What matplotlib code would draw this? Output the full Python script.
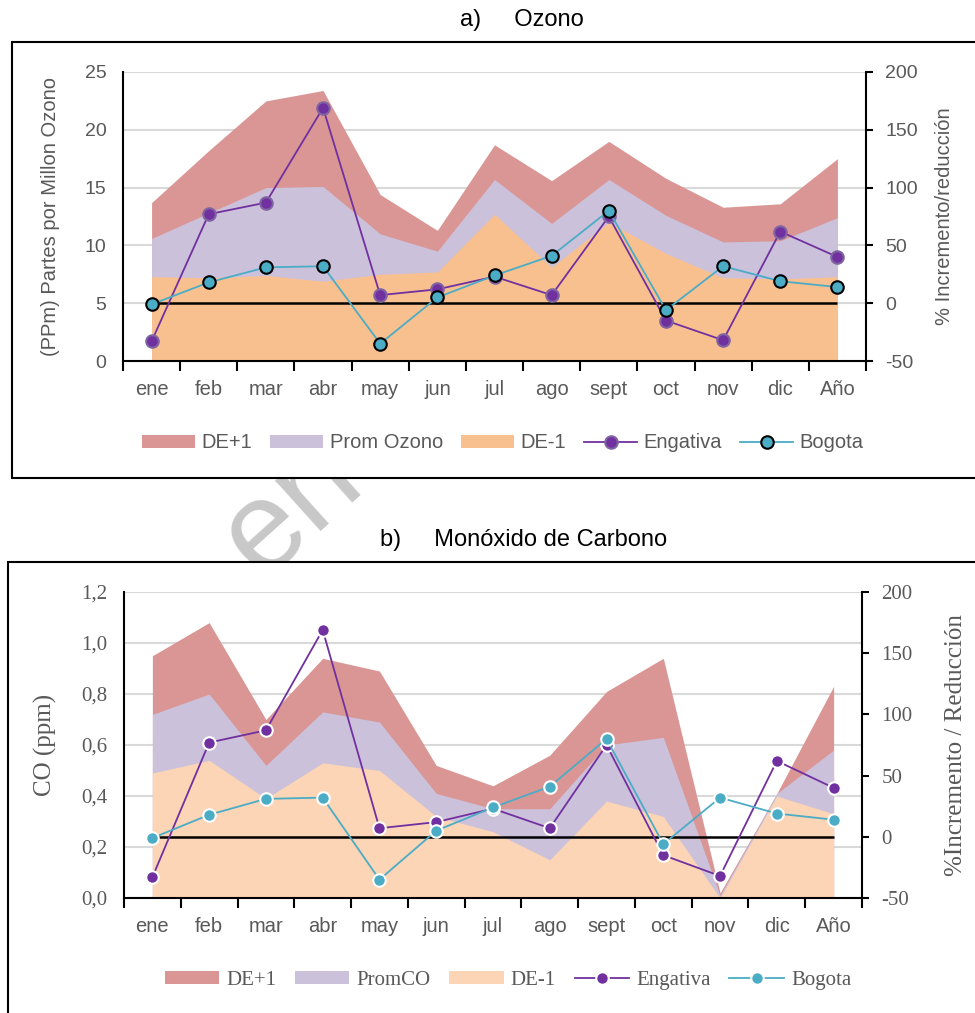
import matplotlib.pyplot as plt
from matplotlib.patches import Rectangle
import numpy as np

MESES = ['ene', 'feb', 'mar', 'abr', 'may', 'jun', 'jul', 'ago', 'sept', 'oct', 'nov', 'dic', 'Año']

# a) Ozono (ppm)
O3_DE_MAS = [13.7, 18.2, 22.5, 23.4, 14.4, 11.3, 18.7, 15.6, 19.0, 15.8, 13.3, 13.6, 17.5]
O3_PROM = [10.6, 12.8, 15.0, 15.1, 11.0, 9.5, 15.7, 11.9, 15.7, 12.6, 10.3, 10.4, 12.4]
O3_DE_MENOS = [7.3, 7.2, 7.4, 6.9, 7.5, 7.7, 12.7, 8.1, 12.0, 9.3, 7.2, 7.1, 7.3]

# b) Monoxido de carbono (ppm)
CO_DE_MAS = [0.95, 1.08, 0.70, 0.94, 0.89, 0.52, 0.44, 0.56, 0.81, 0.94, 0.02, 0.41, 0.83]
CO_PROM = [0.72, 0.80, 0.52, 0.73, 0.69, 0.41, 0.35, 0.35, 0.60, 0.63, 0.01, 0.41, 0.58]
CO_DE_MENOS = [0.49, 0.54, 0.39, 0.53, 0.50, 0.32, 0.26, 0.15, 0.38, 0.32, 0.0, 0.40, 0.33]

# % incremento / reduccion (igual en ambos paneles)
ENGATIVA = [-33, 77, 87, 169, 7, 12, 23, 7, 75, -15, -32, 62, 40]
BOGOTA = [-1, 18, 31, 32, -35, 5, 24, 41, 80, -6, 32, 19, 14]

ROJO = '#D99694'
LILA = '#CCC1DA'
NARANJA = '#F9C08F'
DURAZNO = '#FBD5B5'
MORADO = '#7030A0'
CIAN = '#4BACC6'
GRIS = '#595959'

SANS = ['Liberation Sans', 'DejaVu Sans']
SERIF = ['Liberation Serif', 'DejaVu Serif']
plt.rcParams['font.family'] = SANS

W, H = 975, 1013
fig = plt.figure(figsize=(W / 100, H / 100), dpi=100)


def fx(px):
    return px / W


def fy(py):
    return 1 - py / H


# marca de agua (detras de los recuadros)
fig.text(fx(292), fy(508), 'en', rotation=42, fontsize=92, color='#C8C8C8',
         ha='center', va='center', zorder=0)

# recuadros blancos de cada grafico
for x0, y0, x1, y1 in [(12, 42, 1000, 478), (8, 562, 1000, 1040)]:
    fig.patches.append(Rectangle((fx(x0), fy(y1)), (x1 - x0) / W, (y1 - y0) / H,
                                 transform=fig.transFigure, facecolor='white',
                                 edgecolor='black', lw=1.5, zorder=1))

x = np.arange(len(MESES))


def panel(rect, de_mas, prom, de_menos, color_menos, prom_label, ymax, ystep,
          ylabels, fam_y, size_y, ylabel, ylabel2, size_lab, lab_x, lab2_x,
          borde_eng, borde_bog, leg_xy, leg_fam, leg_size):
    ax = fig.add_axes(rect)
    ax.set_zorder(2)
    ax.fill_between(x, 0, de_mas, color=ROJO, lw=0, label='DE+1')
    ax.fill_between(x, 0, prom, color=LILA, lw=0, label=prom_label)
    ax.fill_between(x, 0, de_menos, color=color_menos, lw=0, label='DE-1')
    ax.set_xlim(-0.5, len(MESES) - 0.5)
    ax.set_ylim(0, ymax)
    ax.set_yticks(np.arange(0, ymax + ystep / 2, ystep), labels=ylabels,
                  fontfamily=fam_y, fontsize=size_y, color=GRIS)
    ax.yaxis.grid(True, color='#D9D9D9', lw=1.5)
    ax.set_axisbelow(True)
    ax.tick_params(axis='y', length=0, pad=12)
    ax.set_xticks(x, labels=MESES, fontsize=14.5, color=GRIS)
    ax.set_xticks(np.arange(-0.5, len(MESES), 1), minor=True)
    ax.tick_params(axis='x', which='major', length=0, pad=14)
    ax.tick_params(axis='x', which='minor', length=7, width=1.5, color='black')
    for s in ['top', 'right']:
        ax.spines[s].set_visible(False)
    for s in ['left', 'bottom']:
        ax.spines[s].set_linewidth(1.5)
    ax.set_ylabel(ylabel, fontfamily=fam_y, fontsize=size_lab, color=GRIS)
    ax.yaxis.set_label_coords(lab_x, 0.5)

    ax2 = ax.twinx()
    ax2.set_zorder(3)
    ax2.hlines(0, x[0], x[-1], color='black', lw=1.8, zorder=2)
    ax2.plot(x, ENGATIVA, color=MORADO, lw=1.3, marker='o', ms=9,
             mfc=MORADO, mec=borde_eng, mew=1.5, label='Engativa', zorder=3)
    ax2.plot(x, BOGOTA, color=CIAN, lw=1.3, marker='o', ms=9,
             mfc=CIAN, mec=borde_bog, mew=1.5, label='Bogota', zorder=4)
    ax2.set_ylim(-50, 200)
    ax2.set_yticks(range(-50, 201, 50), labels=[str(v) for v in range(-50, 201, 50)],
                   fontfamily=fam_y, fontsize=size_y, color=GRIS)
    ax2.tick_params(axis='y', length=5, width=1.5, pad=9)
    for s in ['top', 'left', 'bottom']:
        ax2.spines[s].set_visible(False)
    ax2.spines['right'].set_linewidth(1.5)
    ax2.set_ylabel(ylabel2, fontfamily=fam_y, fontsize=size_lab, color=GRIS)
    ax2.yaxis.set_label_coords(lab2_x, 0.5)

    h1, l1 = ax.get_legend_handles_labels()
    h2, l2 = ax2.get_legend_handles_labels()
    fig.legend(h1 + h2, l1 + l2, loc='center', bbox_to_anchor=leg_xy, ncol=5,
               frameon=False, handlelength=2.6, handleheight=0.6, handletextpad=0.35,
               columnspacing=0.9, prop={'family': leg_fam, 'size': leg_size},
               labelcolor=GRIS)
    return ax, ax2


panel([fx(123), fy(361), 743 / W, 289 / H], O3_DE_MAS, O3_PROM, O3_DE_MENOS, NARANJA,
      'Prom Ozono', 25, 5, [str(v) for v in range(0, 26, 5)], SANS, 14,
      '(PPm) Partes por Millon Ozono', '% Incremento/reducción', 14.5, -0.085, 1.093,
      '#8064A2', 'black', (fx(503), fy(443)), SANS, 14.5)

panel([fx(124), fy(898), 738 / W, 306 / H], CO_DE_MAS, CO_PROM, CO_DE_MENOS, DURAZNO,
      'PromCO', 1.2, 0.2, [f'{v:.1f}'.replace('.', ',') for v in np.arange(0, 1.21, 0.2)],
      SERIF, 15, 'CO (ppm)', '%Incremento / Reducción', 18, -0.091, 1.112,
      'white', 'white', (fx(508), fy(980)), SERIF, 15)

fig.text(fx(522), fy(20), 'a)     Ozono', ha='center', va='center', fontsize=17)
fig.text(fx(524), fy(540), 'b)     Monóxido de Carbono', ha='center', va='center', fontsize=17)

plt.savefig('out.png', dpi=100)
